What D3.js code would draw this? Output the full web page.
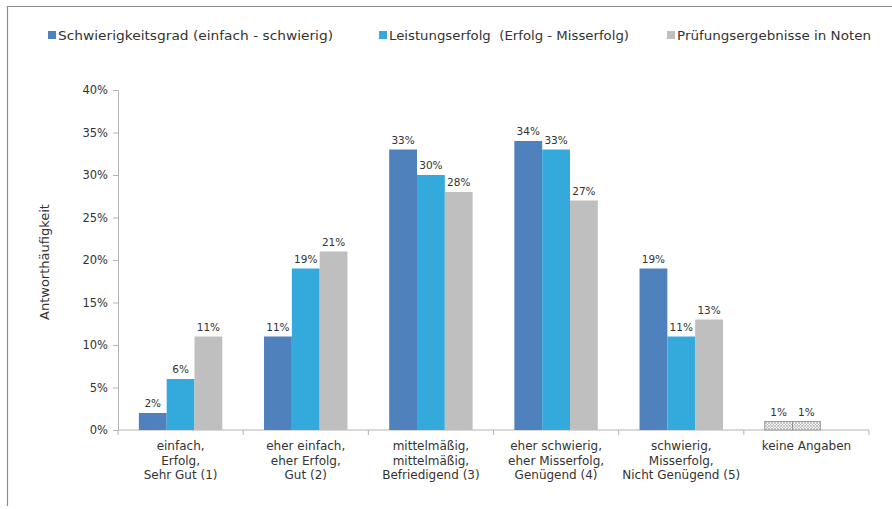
<!DOCTYPE html>
<html>
<head>
<meta charset="utf-8">
<script src="https://cdn.jsdelivr.net/npm/d3@7"></script>
<style>
  body { margin: 0; background: #fff; }
  text { font-family: "DejaVu Sans", Verdana, sans-serif; fill: #333; }
</style>
</head>
<body>
<div id="chart"></div>
<script>
// chart data
let categories = [
    ["einfach,", "Erfolg,", "Sehr Gut (1)"],
    ["eher einfach,", "eher Erfolg,", "Gut (2)"],
    ["mittelmäßig,", "mittelmäßig,", "Befriedigend (3)"],
    ["eher schwierig,", "eher Misserfolg,", "Genügend (4)"],
    ["schwierig,", "Misserfolg,", "Nicht Genügend (5)"],
    ["keine Angaben"]
];
let seriesNames = [
    "Schwierigkeitsgrad (einfach - schwierig)",
    "Leistungserfolg  (Erfolg - Misserfolg)",
    "Prüfungsergebnisse in Noten"
];
let schwierigkeit = [2, 11, 33, 34, 19, 1];
let leistung = [6, 19, 30, 33, 11, 1];
let noten = [11, 21, 28, 27, 13, null];
let yTicks = [0, 5, 10, 15, 20, 25, 30, 35, 40];

let colors = ["#4f81bd", "#33a9dc", "#bfbfbf"];

let width = 892, height = 509;
let margin = {top: 90, right: 23, bottom: 79, left: 118};
let innerW = width - margin.left - margin.right,
    innerH = height - margin.top - margin.bottom;

let svg = d3.select("#chart").append("svg")
    .attr("width", width)
    .attr("height", height);

// pattern for "keine Angaben"
let defs = svg.append("defs");
let pat = defs.append("pattern")
    .attr("id", "hatch")
    .attr("patternUnits", "userSpaceOnUse")
    .attr("width", 3).attr("height", 3);
pat.append("rect").attr("width", 3).attr("height", 3).attr("fill", "#f2f2f2");
pat.append("path").attr("d", "M0,0 L3,3 M3,0 L0,3").attr("stroke", "#a6a6a6").attr("stroke-width", 0.6);

// outer frame (top + left)
svg.append("path")
    .attr("d", "M7.5,506 L7.5,6.5 L892,6.5")
    .attr("fill", "none")
    .attr("stroke", "#8c8c8c")
    .attr("stroke-width", 1.2);

let g = svg.append("g")
    .attr("transform", "translate(" + margin.left + "," + margin.top + ")");

let x0 = d3.scaleBand()
    .domain(d3.range(categories.length))
    .range([0, innerW]);

let x1 = d3.scaleBand()
    .domain([0, 1, 2])
    .range([0, x0.bandwidth()])
    .paddingInner(0)
    .paddingOuter(0.75);

let y = d3.scaleLinear()
    .domain([0, 40])
    .range([innerH, 0]);

// y axis
let yAxis = g.append("g")
    .call(d3.axisLeft(y).tickValues(yTicks).tickFormat(d => d + "%").tickSize(5).tickSizeOuter(0));
yAxis.select(".domain").attr("stroke", "#b3b3b3");
yAxis.selectAll(".tick line").attr("stroke", "#b3b3b3");
yAxis.selectAll(".tick text")
    .attr("x", -10)
    .style("font-size", "11.5px")
    .style("font-family", "DejaVu Sans, Verdana, sans-serif")
    .attr("fill", "#333");

// x axis line + ticks at category borders
let xAxis = g.append("g").attr("transform", "translate(0," + innerH + ")");
xAxis.append("line")
    .attr("x1", 0).attr("x2", innerW)
    .attr("stroke", "#b3b3b3");
xAxis.selectAll(".cat-tick")
    .data(d3.range(categories.length + 1))
    .enter()
    .append("line")
    .attr("class", "cat-tick")
    .attr("x1", d => d * x0.step()).attr("x2", d => d * x0.step())
    .attr("y1", 0).attr("y2", 5)
    .attr("stroke", "#b3b3b3");

// category labels
let catLabels = xAxis.selectAll(".cat-label")
    .data(categories)
    .enter()
    .append("text")
    .attr("class", "cat-label")
    .attr("text-anchor", "middle")
    .attr("transform", (d, i) => "translate(" + (x0(i) + x0.bandwidth() / 2) + ",20)")
    .style("font-size", "12px");
catLabels.selectAll("tspan")
    .data(d => d)
    .enter()
    .append("tspan")
    .attr("x", 0)
    .attr("y", (d, i) => i * 14.5)
    .text(d => d);

// bars
let allSeries = [schwierigkeit, leistung, noten];
let barData = [];
categories.forEach((c, i) => {
    allSeries.forEach((s, j) => {
        if (s[i] !== null) barData.push({cat: i, series: j, value: s[i]});
    });
});
let isLast = d => d.cat === categories.length - 1;

g.selectAll(".bar")
    .data(barData)
    .enter()
    .append("rect")
    .attr("class", "bar")
    .attr("x", d => x0(d.cat) + x1(d.series))
    .attr("y", d => y(d.value))
    .attr("width", x1.bandwidth())
    .attr("height", d => innerH - y(d.value))
    .attr("fill", d => isLast(d) ? "url(#hatch)" : colors[d.series])
    .attr("stroke", d => isLast(d) ? "#8c8c8c" : "none")
    .attr("stroke-width", 0.8);

// value labels
g.selectAll(".val")
    .data(barData)
    .enter()
    .append("text")
    .attr("class", "val")
    .attr("text-anchor", "middle")
    .attr("x", d => x0(d.cat) + x1(d.series) + x1.bandwidth() / 2)
    .attr("y", d => y(d.value) - 6)
    .style("font-size", "10.5px")
    .text(d => d.value + "%");

// y axis title
svg.append("text")
    .attr("transform", "translate(49," + (margin.top + innerH / 2 + 2) + ") rotate(-90)")
    .attr("text-anchor", "middle")
    .style("font-size", "13px")
    .text("Antworthäufigkeit");

// legend
let legendX = [48, 379, 667];
let legendW = [275, 240, 194];
let legend = svg.selectAll(".legend")
    .data(seriesNames)
    .enter()
    .append("g")
    .attr("class", "legend")
    .attr("transform", (d, i) => "translate(" + legendX[i] + ",35)");
legend.append("rect")
    .attr("x", 0).attr("y", -4)
    .attr("width", 8).attr("height", 8)
    .attr("fill", (d, i) => colors[i]);
legend.append("text")
    .attr("x", 10)
    .attr("dy", "0.35em")
    .attr("textLength", (d, i) => legendW[i])
    .attr("lengthAdjust", "spacingAndGlyphs")
    .style("white-space", "pre")
    .style("font-size", "13px")
    .text(d => d);
</script>
</body>
</html>
